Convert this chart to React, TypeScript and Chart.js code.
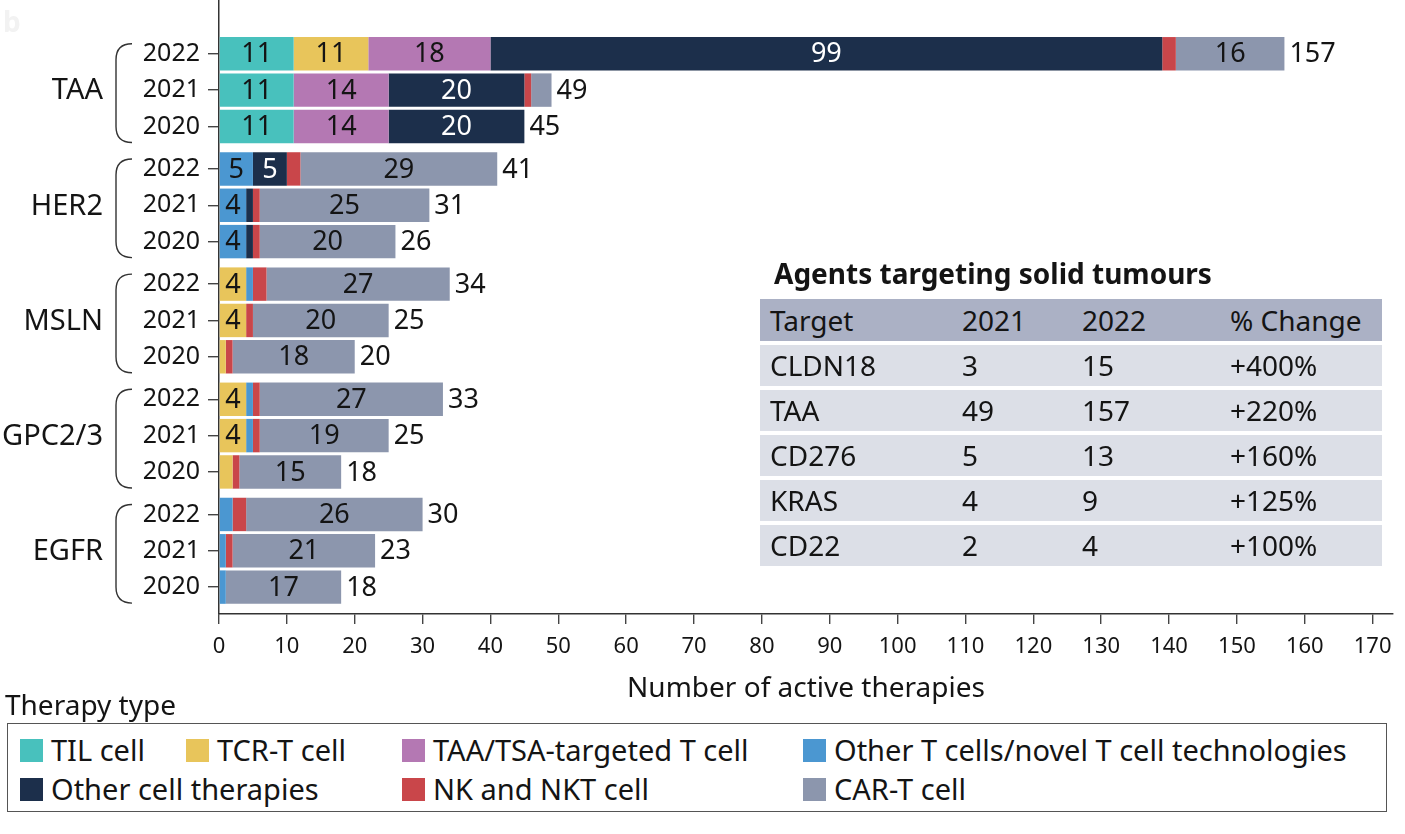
import React, { useEffect, useRef } from "react";
import { Chart, registerables } from "chart.js";

Chart.register(...registerables);

const FONT = "'Noto Sans', sans-serif";
const INK = "#141414";

// ---------- data ----------
const groups = ["TAA", "HER2", "MSLN", "GPC2/3", "EGFR"];
const years = ["2022", "2021", "2020"];

const seriesNames = [
  "TIL cell",
  "TCR-T cell",
  "TAA/TSA-targeted T cell",
  "Other T cells/novel T cell technologies",
  "Other cell therapies",
  "NK and NKT cell",
  "CAR-T cell",
];

// rows: TAA 2022,2021,2020 | HER2 ... | MSLN ... | GPC2/3 ... | EGFR ...
const tilCell = [11, 11, 11, 0, 0, 0, 0, 0, 0, 0, 0, 0, 0, 0, 0];
const tcrTCell = [11, 0, 0, 0, 0, 0, 4, 4, 1, 4, 4, 2, 0, 0, 0];
const taaTsaTCell = [18, 14, 14, 0, 0, 0, 0, 0, 0, 0, 0, 0, 0, 0, 0];
const otherTCells = [0, 0, 0, 5, 4, 4, 1, 0, 0, 1, 1, 0, 2, 1, 1];
const otherCellTherapies = [99, 20, 20, 5, 1, 1, 0, 0, 0, 0, 0, 0, 0, 0, 0];
const nkNktCell = [2, 1, 0, 2, 1, 1, 2, 1, 1, 1, 1, 1, 2, 1, 0];
const carTCell = [16, 3, 0, 29, 25, 20, 27, 20, 18, 27, 19, 15, 26, 21, 17];

const xMax = 173;
const xStep = 10;

const tableTitle = "Agents targeting solid tumours";
const tableHeader = ["Target", "2021", "2022", "% Change"];
const tableTargets = ["CLDN18", "TAA", "CD276", "KRAS", "CD22"];
const table2021 = [3, 49, 5, 4, 2];
const table2022 = [15, 157, 13, 9, 4];
const tableChange = ["+400%", "+220%", "+160%", "+125%", "+100%"];

const legendTitle = "Therapy type";
const xTitle = "Number of active therapies";

// ---------- styles ----------
const seriesColors = ["#48c1bd", "#e8c55b", "#b478b3", "#4b97d1", "#1c2f4b", "#c9464a", "#8c96ad"];
const allSeries = [tilCell, tcrTCell, taaTsaTCell, otherTCells, otherCellTherapies, nkNktCell, carTCell];
const GROUP_STEP = 3.17;
const rowPos = (i: number) => Math.floor(i / 3) * GROUP_STEP + (i % 3);
const rowCount = groups.length * years.length;
const totals = Array.from({ length: rowCount }, (_, i) => allSeries.reduce((s, arr) => s + arr[i], 0));

const legendLayout = [
  { x: 20, row: 0 },
  { x: 186, row: 0 },
  { x: 402, row: 0 },
  { x: 803, row: 0 },
  { x: 20, row: 1 },
  { x: 402, row: 1 },
  { x: 803, row: 1 },
];
const tableCols = [10, 202, 322, 470];

const overlayPlugin = {
  id: "overlay",
  afterDatasetsDraw(chart: any) {
    const ctx = chart.ctx;
    const xs = chart.scales.x;
    const ys = chart.scales.y;
    ctx.save();
    ctx.textBaseline = "middle";
    ctx.font = `27px ${FONT}`;
    chart.data.datasets.forEach((_ds: any, di: number) => {
      const meta = chart.getDatasetMeta(di);
      meta.data.forEach((el: any, i: number) => {
        const v = allSeries[di][i];
        if (v >= 4) {
          const p = el.getProps(["x", "base", "y"], true);
          ctx.fillStyle = di === 4 ? "#ffffff" : INK;
          ctx.textAlign = "center";
          ctx.fillText(String(v), (p.x + p.base) / 2, p.y + 1);
        }
      });
    });
    totals.forEach((t, i) => {
      const x = xs.getPixelForValue(t);
      const y = ys.getPixelForValue(rowPos(i));
      ctx.textAlign = "left";
      ctx.fillStyle = INK;
      ctx.fillText(String(t), x + 5, y + 1);
    });
    // group labels and brackets
    groups.forEach((g, gi) => {
      const top = ys.getPixelForValue(gi * GROUP_STEP) - 10;
      const bot = ys.getPixelForValue(gi * GROUP_STEP + 2) + 16;
      const mid = ys.getPixelForValue(gi * GROUP_STEP + 1);
      ctx.strokeStyle = "#333";
      ctx.lineWidth = 1.4;
      ctx.beginPath();
      ctx.moveTo(132, top);
      ctx.quadraticCurveTo(116, top, 116, top + 16);
      ctx.lineTo(116, bot - 16);
      ctx.quadraticCurveTo(116, bot, 132, bot);
      ctx.stroke();
      ctx.font = `29px ${FONT}`;
      ctx.textAlign = "right";
      ctx.fillStyle = INK;
      ctx.fillText(g, 103, mid + 1);
    });
    ctx.restore();
  },
};

export default function App() {
  const ref = useRef<HTMLCanvasElement | null>(null);

  useEffect(() => {
    document.body.style.margin = "0";
    if (!ref.current) return;
    const yTicks = Array.from({ length: rowCount }, (_, i) => rowPos(i));
    const chart = new Chart(ref.current, {
      type: "bar",
      data: {
        datasets: seriesNames.map((name, di) => ({
          label: name,
          data: allSeries[di].map((v, i) => ({ x: v, y: rowPos(i) })),
          backgroundColor: seriesColors[di],
          borderWidth: 0,
          categoryPercentage: 1,
          barPercentage: 0.92,
        })),
      },
      options: {
        indexAxis: "y",
        animation: false,
        responsive: true,
        maintainAspectRatio: false,
        layout: { autoPadding: false, padding: { top: 0, right: 12, left: 0, bottom: 0 } },
        plugins: { legend: { display: false }, tooltip: { enabled: false } },
        scales: {
          x: {
            type: "linear",
            stacked: true,
            min: 0,
            max: xMax,
            offset: false,
            grid: { drawOnChartArea: false, offset: false, tickLength: 10, color: "#444", lineWidth: 1.4 },
            border: { display: true, color: "#333", width: 1.5 },
            ticks: {
              stepSize: xStep,
              includeBounds: false,
              padding: 10,
              color: INK,
              font: { family: FONT, size: 22 },
              maxRotation: 0,
            },
            title: {
              display: true,
              text: xTitle,
              color: INK,
              font: { family: FONT, size: 28 },
              padding: { top: 0, bottom: 0 },
            },
            afterBuildTicks: (s: any) => {
              s.ticks = s.ticks.filter((t: any) => t.value % xStep === 0);
            },
            afterFit: (s: any) => {
              s.height = 92;
              s.paddingLeft = 0;
              s.paddingRight = 0;
            },
          },
          y: {
            type: "linear",
            stacked: true,
            reverse: true,
            offset: false,
            min: -1.48,
            max: 15.42,
            grid: { drawOnChartArea: false, offset: false, tickLength: 11, color: "#444", lineWidth: 1.4 },
            border: { display: true, color: "#333", width: 1.5 },
            ticks: {
              padding: 8,
              color: INK,
              font: { family: FONT, size: 25 },
              callback: (_v: any, idx: number) => years[idx % 3],
            },
            afterBuildTicks: (s: any) => {
              s.ticks = yTicks.map((v) => ({ value: v }));
            },
            afterFit: (s: any) => {
              s.width = 219;
              s.paddingTop = 0;
              s.paddingBottom = 0;
            },
          },
        },
      },
      plugins: [overlayPlugin],
    } as any);
    return () => chart.destroy();
  }, []);

  return (
    <div style={{ position: "relative", width: 1405, height: 834, fontFamily: FONT, color: INK, background: "#fff", overflow: "hidden" }}>
      <div style={{ position: "absolute", left: 0, top: 0, width: 1405, height: 706 }}>
        <canvas ref={ref} />
      </div>
      <div style={{ position: "absolute", left: 3, top: 4, fontSize: 28, fontWeight: 700, color: "#f2f2f2", lineHeight: "34px" }}>b</div>

      {/* table */}
      <div style={{ position: "absolute", left: 774, top: 256, fontSize: 28, fontWeight: 700, lineHeight: "34px", whiteSpace: "nowrap" }}>
        {tableTitle}
      </div>
      <div style={{ position: "absolute", left: 760, top: 299, width: 622, height: 42, background: "#abb1c5" }}>
        {tableHeader.map((h, ci) => (
          <span key={ci} style={{ position: "absolute", left: tableCols[ci], top: 0, fontSize: 28, lineHeight: "42px", whiteSpace: "nowrap" }}>
            {h}
          </span>
        ))}
      </div>
      {tableTargets.map((t, ri) => {
        const cells = [t, String(table2021[ri]), String(table2022[ri]), tableChange[ri]];
        return (
          <div key={ri} style={{ position: "absolute", left: 760, top: 345 + ri * 45, width: 622, height: 41, background: "#dcdfe7" }}>
            {cells.map((c, ci) => (
              <span key={ci} style={{ position: "absolute", left: tableCols[ci], top: 0, fontSize: 28, lineHeight: "41px", whiteSpace: "nowrap" }}>
                {c}
              </span>
            ))}
          </div>
        );
      })}

      {/* legend */}
      <div style={{ position: "absolute", left: 5, top: 687, fontSize: 28, lineHeight: "34px", whiteSpace: "nowrap" }}>{legendTitle}</div>
      <div style={{ position: "absolute", left: 7, top: 723, width: 1380, height: 89, border: "1.5px solid #555", boxSizing: "border-box" }} />
      {seriesNames.map((name, i) => {
        const cy = legendLayout[i].row === 0 ? 750 : 789;
        return (
          <React.Fragment key={i}>
            <div style={{ position: "absolute", left: legendLayout[i].x, top: cy - 11, width: 23, height: 23, background: seriesColors[i] }} />
            <div style={{ position: "absolute", left: legendLayout[i].x + 31, top: cy - 20, fontSize: 29, lineHeight: "40px", whiteSpace: "nowrap" }}>{name}</div>
          </React.Fragment>
        );
      })}
    </div>
  );
}
